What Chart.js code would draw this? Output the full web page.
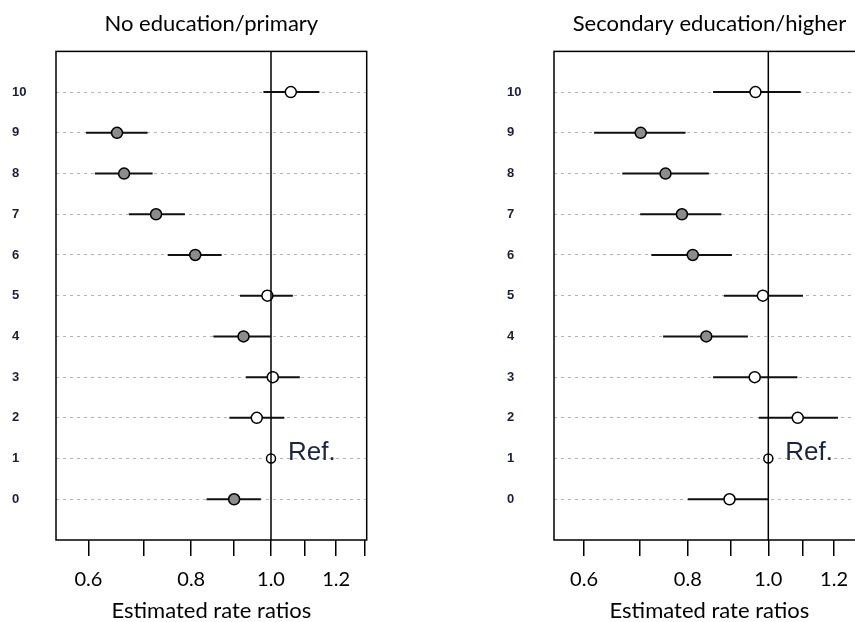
<!DOCTYPE html>
<html>
<head>
<meta charset="utf-8">
<script src="https://cdn.jsdelivr.net/npm/chart.js@4/dist/chart.umd.min.js"></script>
<style>
  html, body { margin: 0; padding: 0; background: #fff; overflow: hidden; }
  body { width: 855px; height: 622px; position: relative; }
  canvas { position: absolute; top: 0; }
  #left { left: 0; }
  #right { left: 430px; }
</style>
</head>
<body>
<canvas id="left" width="430" height="622"></canvas>
<canvas id="right" width="445" height="622"></canvas>
<script>
// rows on the y axis (1 is the reference category)
const rows = [0, 1, 2, 3, 4, 5, 6, 7, 8, 9, 10];
const refRow = 1;
const refValue = 1.0;
const xTicks = [0.6, 0.7, 0.8, 0.9, 1.0, 1.1, 1.2, 1.3];
const xTickLabels = ['0.6', '', '0.8', '', '1.0', '', '1.2', ''];

// No education/primary
const leftEst  = [0.902, 1.0, 0.961, 1.005, 0.926, 0.990, 0.809, 0.725, 0.663, 0.650, 1.057];
const leftLow  = [0.835, null, 0.890, 0.932, 0.851, 0.917, 0.749, 0.672, 0.611, 0.596, 0.979];
const leftHigh = [0.972, null, 1.038, 1.084, 0.999, 1.063, 0.871, 0.786, 0.718, 0.708, 1.145];
const leftSig  = [1, 0, 0, 0, 1, 0, 1, 1, 1, 1, 0];

// Secondary education/higher
const rightEst  = [0.898, 1.0, 1.085, 0.963, 0.842, 0.985, 0.811, 0.787, 0.752, 0.702, 0.965];
const rightLow  = [0.800, null, 0.974, 0.858, 0.747, 0.884, 0.723, 0.701, 0.667, 0.617, 0.858];
const rightHigh = [1.000, null, 1.213, 1.084, 0.945, 1.101, 0.904, 0.878, 0.848, 0.795, 1.094];
const rightSig  = [0, 0, 0, 0, 1, 0, 1, 1, 1, 1, 0];

Chart.defaults.color = '#000';
Chart.defaults.font.family = 'Lato, "Open Sans", sans-serif';

// frame around the plot area
const boxPlugin = {
  id: 'box',
  afterDatasetsDraw(chart) {
    const {ctx, chartArea: a} = chart;
    ctx.save();
    ctx.strokeStyle = '#000';
    ctx.lineWidth = 1.5;
    ctx.strokeRect(a.left, a.top, a.right - a.left, a.bottom - a.top);
    ctx.restore();
  }
};

// "Ref." next to the reference point
const refLabel = {
  id: 'refLabel',
  afterDatasetsDraw(chart) {
    const {ctx, scales} = chart;
    const x = scales.x.getPixelForValue(refValue) + 17;
    const y = scales.y.getPixelForValue(refRow) + 1;
    ctx.save();
    ctx.font = '26px "Liberation Sans", Arial, sans-serif';
    ctx.fillStyle = '#1a2444';
    ctx.textBaseline = 'alphabetic';
    ctx.fillText('Ref.', x, y);
    ctx.restore();
  }
};

function makePanel(id, title, est, low, high, sig, xmin, xmax, padL, padR, yWidth) {
  const ci = [];
  rows.forEach(r => {
    if (low[r] == null) return;
    ci.push({x: low[r], y: r}, {x: high[r], y: r}, {x: NaN, y: NaN});
  });
  const pts = rows.map(r => ({x: est[r], y: r}));

  new Chart(document.getElementById(id), {
    type: 'scatter',
    data: {
      datasets: [
        {
          // vertical line at 1
          data: [{x: refValue, y: -1}, {x: refValue, y: 11}],
          showLine: true,
          borderColor: '#000',
          borderWidth: 1.5,
          pointRadius: 0
        },
        {
          data: pts,
          pointRadius: rows.map(r => r === refRow ? 4.5 : 5.5),
          pointBackgroundColor: rows.map(r => sig[r] ? '#8c8c8c' : '#fff'),
          pointBorderColor: '#000',
          pointBorderWidth: 1.5
        },
        {
          data: ci,
          showLine: true,
          borderColor: '#111',
          borderWidth: 2,
          pointRadius: 0
        }
      ]
    },
    options: {
      responsive: false,
      animation: false,
      layout: {padding: {left: padL, right: padR, top: 0, bottom: 0}},
      plugins: {
        legend: {display: false},
        tooltip: {enabled: false},
        title: {
          display: true,
          text: title,
          fullSize: false,
          color: '#000',
          font: {size: 22, weight: 'normal'},
          padding: {top: 11, bottom: 14}
        }
      },
      scales: {
        x: {
          type: 'logarithmic',
          min: xmin,
          max: xmax,
          bounds: 'data',
          afterBuildTicks: s => { s.ticks = xTicks.map(v => ({value: v})); },
          afterFit: s => { s.height = 82; },
          ticks: {
            autoSkip: false,
            maxRotation: 0,
            padding: 12,
            font: {size: 20},
            callback: (v, i) => xTickLabels[i]
          },
          grid: {
            drawOnChartArea: false,
            drawTicks: true,
            tickLength: 16,
            color: '#000',
            lineWidth: 1.5
          },
          border: {display: false},
          title: {
            display: true,
            text: 'Estimated rate ratios',
            font: {size: 22},
            padding: {top: 0, bottom: -2}
          }
        },
        y: {
          type: 'linear',
          min: -1,
          max: 11,
          afterBuildTicks: s => { s.ticks = rows.map(v => ({value: v})); },
          afterFit: s => { s.width = yWidth; },
          ticks: {
            crossAlign: 'far',
            color: '#1a1f3a',
            font: {family: '"Liberation Sans", Arial, sans-serif', size: 13, weight: 'bold'},
            callback: v => String(v)
          },
          grid: {
            drawTicks: false,
            color: '#b4b4b4',
            lineWidth: 1
          },
          border: {display: false, dash: [3, 4]}
        }
      }
    },
    plugins: [boxPlugin, refLabel]
  });
}

makePanel('left', 'No education/primary', leftEst, leftLow, leftHigh, leftSig, 0.548, 1.307, 12, 63.3, 44);
makePanel('right', 'Secondary education/higher', rightEst, rightLow, rightHigh, rightSig, 0.552, 1.307, 77, 9.7, 47);
</script>
</body>
</html>
